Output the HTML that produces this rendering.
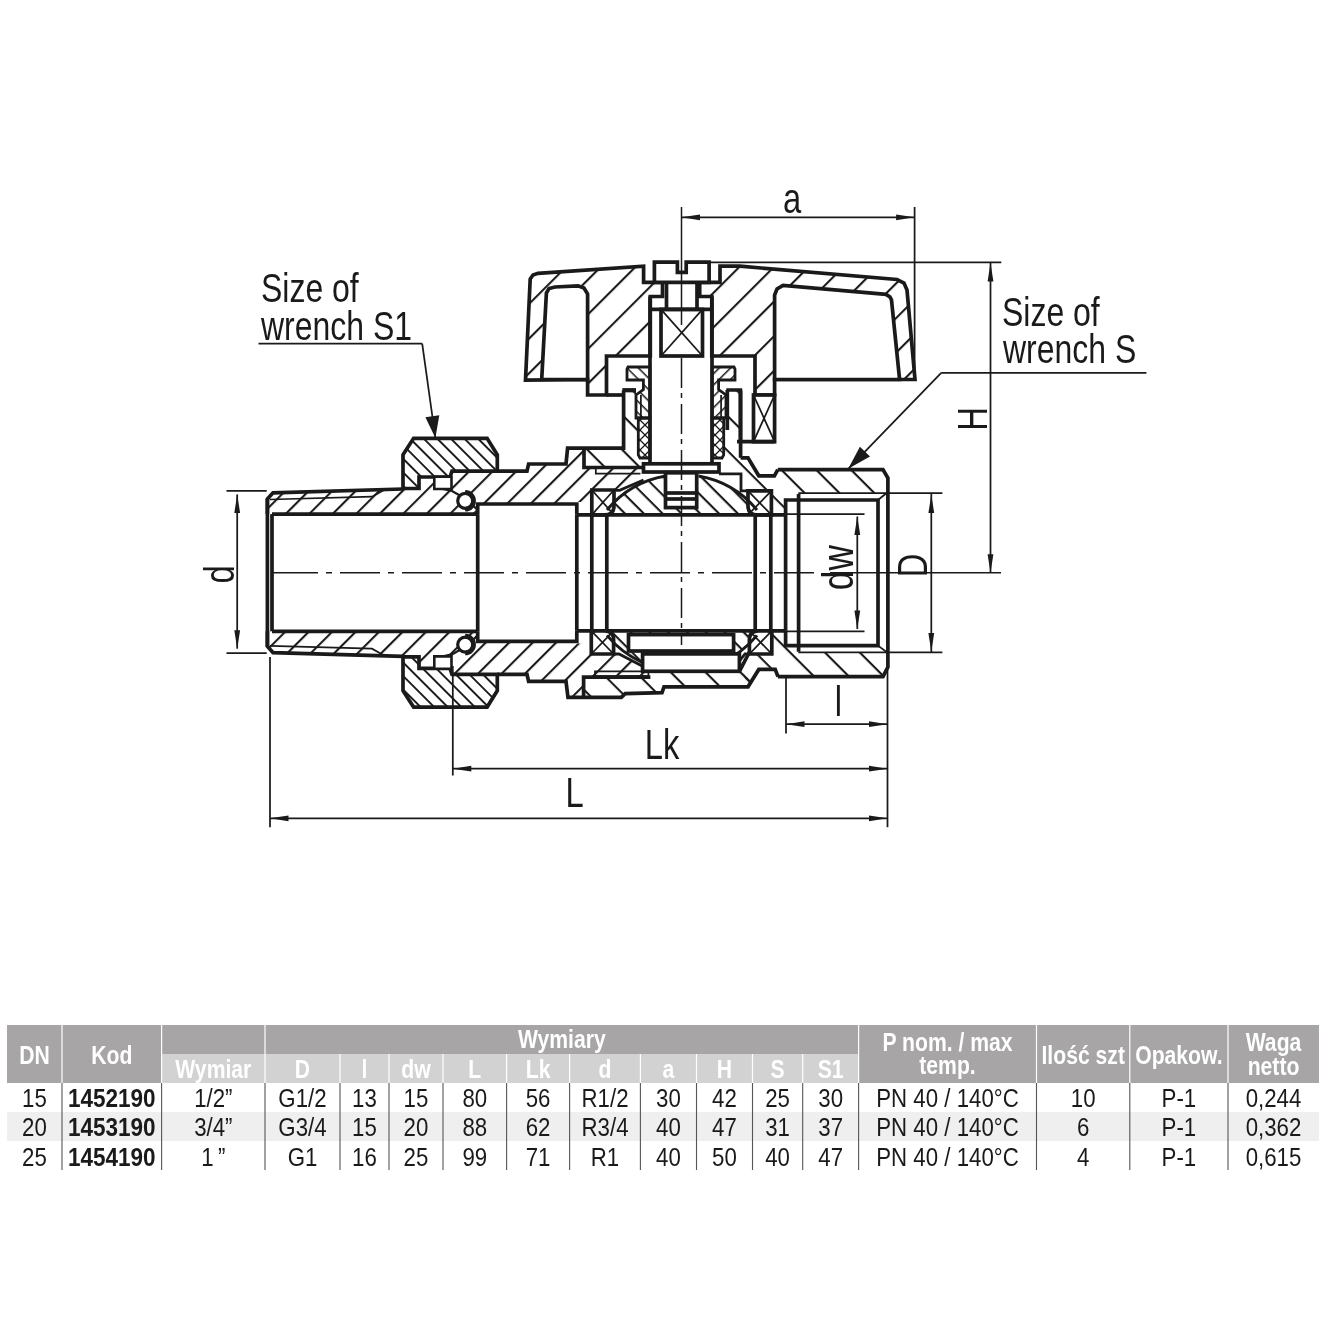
<!DOCTYPE html>
<html><head><meta charset="utf-8"><style>html,body{margin:0;padding:0;background:#fff;width:1343px;height:1334px;overflow:hidden}</style></head>
<body><svg width="1343" height="1334" viewBox="0 0 1343 1334" style="display:block;font-family:'Liberation Sans',sans-serif;will-change:transform">
<defs><pattern id="hP" patternUnits="userSpaceOnUse" width="16.6" height="16.6" patternTransform="rotate(-45)"><rect x="0" y="0" width="16.6" height="2.1" fill="#1a1a1a"/></pattern><pattern id="hN" patternUnits="userSpaceOnUse" width="9.6" height="9.6" patternTransform="rotate(45)"><rect x="0" y="0" width="9.6" height="1.9" fill="#1a1a1a"/></pattern><pattern id="hB" patternUnits="userSpaceOnUse" width="16.6" height="16.6" patternTransform="rotate(-45)"><rect x="0" y="0" width="16.6" height="2.1" fill="#1a1a1a"/></pattern><pattern id="hF" patternUnits="userSpaceOnUse" width="24.6" height="24.6" patternTransform="rotate(45)"><rect x="0" y="0" width="24.6" height="2.1" fill="#1a1a1a"/></pattern><pattern id="hH" patternUnits="userSpaceOnUse" width="24.5" height="24.5" patternTransform="rotate(-45)"><rect x="0" y="0" width="24.5" height="2.1" fill="#1a1a1a"/></pattern><pattern id="hK" patternUnits="userSpaceOnUse" width="13.3" height="13.3" patternTransform="rotate(45)"><rect x="0" y="0" width="13.3" height="2.1" fill="#1a1a1a"/></pattern><pattern id="hGL" patternUnits="userSpaceOnUse" width="8" height="8" patternTransform="rotate(45)"><rect x="0" y="0" width="8" height="1.5" fill="#1a1a1a"/></pattern><pattern id="hGR" patternUnits="userSpaceOnUse" width="8" height="8" patternTransform="rotate(-45)"><rect x="0" y="0" width="8" height="1.5" fill="#1a1a1a"/></pattern><pattern id="hX" patternUnits="userSpaceOnUse" width="10" height="10"><path d="M0,0 L10,10 M10,0 L0,10" stroke="#1a1a1a" stroke-width="1.3"/></pattern></defs>
<rect width="1343" height="1334" fill="#fff"/>
<g id="hatch">
<polygon points="267.4,499.0 273.0,492.8 403.0,489.0 419.0,488.5 419.0,477.0 436.0,477.0 436.0,487.5 452.0,491.0 466.0,499.0 477.7,510.0 477.7,514.1 267.4,514.1" fill="url(#hP)" stroke="none" stroke-width="0" stroke-linejoin="miter" />
<polygon points="267.4,646.4 273.0,652.6 403.0,656.4 419.0,656.9 419.0,668.4 436.0,668.4 436.0,657.9 452.0,654.4 466.0,646.4 477.7,635.4 477.7,631.3 267.4,631.3" fill="url(#hP)" stroke="none" stroke-width="0" stroke-linejoin="miter" />
<polygon points="403.0,454.7 413.6,438.3 487.1,438.3 497.3,454.7 497.3,471.1 452.0,471.1 450.0,477.0 419.0,477.0 419.0,488.5 403.0,488.5" fill="url(#hN)" stroke="none" stroke-width="0" stroke-linejoin="miter" />
<polygon points="403.0,690.7 413.6,707.1 487.1,707.1 497.3,690.7 497.3,674.3 452.0,674.3 450.0,668.4 419.0,668.4 419.0,656.9 403.0,656.9" fill="url(#hN)" stroke="none" stroke-width="0" stroke-linejoin="miter" />
<polygon points="450.0,477.0 452.0,471.1 527.0,471.1 528.6,464.0 566.0,464.0 567.6,448.1 584.0,448.1 584.0,467.5 643.5,467.5 643.5,480.0 619.6,490.3 591.8,490.3 591.8,502.0 576.8,502.0 576.8,504.0 477.7,504.0 477.7,510.0 466.0,499.0 452.0,491.0 436.0,487.5 436.0,477.0" fill="url(#hB)" stroke="none" stroke-width="0" stroke-linejoin="miter" />
<polygon points="584.0,448.1 623.6,448.1 623.6,390.0 636.0,390.0 636.0,418.0 638.3,418.0 638.3,458.0 643.5,463.8 643.5,467.5 584.0,467.5" fill="url(#hF)" stroke="none" stroke-width="0" stroke-linejoin="miter" />
<polygon points="450.0,668.4 452.0,674.3 527.0,674.3 528.6,681.4 566.0,681.4 568.0,697.4 583.6,697.4 583.6,677.1 650.4,677.1 650.4,671.9 642.2,666.0 619.0,654.0 591.8,654.0 591.8,643.4 576.8,643.4 576.8,641.4 477.7,641.4 477.7,635.4 466.0,646.4 452.0,654.4 436.0,657.9 436.0,668.4" fill="url(#hB)" stroke="none" stroke-width="0" stroke-linejoin="miter" />
<polygon points="583.6,677.1 650.4,677.1 650.4,671.9 739.4,671.9 739.4,662.0 745.0,654.0 749.4,654.0 759.0,669.2 748.0,686.8 664.0,686.8 662.0,692.6 625.2,693.6 621.3,697.4 583.6,697.4" fill="url(#hF)" stroke="none" stroke-width="0" stroke-linejoin="miter" />
<polygon points="726.3,390.0 740.4,390.0 740.4,457.8 748.0,457.8 758.8,475.8 774.4,475.8 777.8,469.6 883.0,469.6 887.9,478.0 887.9,493.0 799.0,493.0 785.6,500.0 785.6,514.8 771.4,514.8 771.4,490.8 741.0,490.8 741.0,473.8 719.0,473.8 719.0,463.8 723.4,458.0 723.4,418.0 726.3,418.0" fill="url(#hF)" stroke="none" stroke-width="0" stroke-linejoin="miter" />
<polygon points="758.8,669.4 775.2,669.4 778.0,676.7 883.0,676.7 887.9,667.0 887.9,652.4 799.0,652.4 785.6,645.6 785.6,630.8 771.8,630.8 771.8,654.0 749.4,654.0 738.7,660.0 747.6,687.0" fill="url(#hF)" stroke="none" stroke-width="0" stroke-linejoin="miter" />
<polygon points="525.5,380.2 530.2,279.0 533.0,275.0 538.0,273.3 643.6,266.2 643.6,282.4 662.5,282.4 662.5,296.5 650.3,296.5 650.3,356.0 606.5,356.0 606.5,395.0 587.6,395.0 587.6,379.5" fill="url(#hH)" stroke="none" stroke-width="0" stroke-linejoin="miter" />
<polygon points="699.7,282.4 720.0,282.4 720.0,266.2 740.0,266.2 897.0,279.5 904.0,283.0 907.0,290.0 915.0,379.5 774.6,379.5 774.6,395.0 755.0,395.0 755.0,356.0 711.8,356.0 711.8,296.5 699.7,296.5" fill="url(#hH)" stroke="none" stroke-width="0" stroke-linejoin="miter" />
<path d="M 603,514.8 A 98 98 0 0 1 761,514.8 Z" fill="url(#hK)"/>
<path d="M 603,630.8 A 98 98 0 0 0 761,630.8 Z" fill="url(#hK)"/>
</g>
<polyline points="267.4,514.1 267.4,499.0 273.0,492.8 403.0,489.0" fill="none" stroke="#1a1a1a" stroke-width="3.7" />
<polyline points="272.0,514.1 477.7,514.1" fill="none" stroke="#1a1a1a" stroke-width="3.7" />
<polyline points="270.0,499.5 372.0,496.7 385.0,489.5" fill="none" stroke="#1a1a1a" stroke-width="1.75" />
<polyline points="267.4,631.3 267.4,646.4 273.0,652.6 403.0,656.4" fill="none" stroke="#1a1a1a" stroke-width="3.7" />
<polyline points="272.0,631.3 477.7,631.3" fill="none" stroke="#1a1a1a" stroke-width="3.7" />
<polyline points="270.0,645.9 372.0,648.7 385.0,655.9" fill="none" stroke="#1a1a1a" stroke-width="1.75" />
<line x1="267.4" y1="499.0" x2="267.4" y2="646.4" stroke="#1a1a1a" stroke-width="3.7" />
<line x1="272.0" y1="514.1" x2="272.0" y2="631.3" stroke="#1a1a1a" stroke-width="3.7" />
<polyline points="403.0,488.5 403.0,454.7 413.6,438.3 487.1,438.3 497.3,454.7 497.3,471.1 452.0,471.1 450.0,477.0 419.0,477.0 419.0,488.5 403.0,488.5" fill="none" stroke="#1a1a1a" stroke-width="3.7" />
<polyline points="436.0,477.0 436.0,487.5" fill="none" stroke="#1a1a1a" stroke-width="2.2" />
<polyline points="436.0,487.5 452.0,491.0 466.0,499.0 477.7,510.0" fill="none" stroke="#1a1a1a" stroke-width="2.2" />
<polyline points="403.0,656.9 403.0,690.7 413.6,707.1 487.1,707.1 497.3,690.7 497.3,674.3 452.0,674.3 450.0,668.4 419.0,668.4 419.0,656.9 403.0,656.9" fill="none" stroke="#1a1a1a" stroke-width="3.7" />
<polyline points="436.0,668.4 436.0,657.9" fill="none" stroke="#1a1a1a" stroke-width="2.2" />
<polyline points="436.0,657.9 452.0,654.4 466.0,646.4 477.7,635.4" fill="none" stroke="#1a1a1a" stroke-width="2.2" />
<polygon points="434.3,476.7 451.5,476.7 451.5,489.0 434.3,489.0" fill="#fff" stroke="#1a1a1a" stroke-width="2.6" stroke-linejoin="miter" />
<polygon points="434.3,668.7 451.5,668.7 451.5,656.4 434.3,656.4" fill="#fff" stroke="#1a1a1a" stroke-width="2.6" stroke-linejoin="miter" />
<circle cx="465.2" cy="500.8" r="7.5" fill="#fff" stroke="#1a1a1a" stroke-width="3.2"/>
<path d="M 465.2,492.3 A 8.5 8.5 0 0 1 465.2,509.3" fill="none" stroke="#1a1a1a" stroke-width="4.5"/>
<circle cx="465.2" cy="644.6000000000001" r="7.5" fill="#fff" stroke="#1a1a1a" stroke-width="3.2"/>
<path d="M 465.2,636.1000000000001 A 8.5 8.5 0 0 1 465.2,653.1000000000001" fill="none" stroke="#1a1a1a" stroke-width="4.5"/>
<polyline points="477.7,514.1 477.7,504.0 576.8,504.0 576.8,514.8" fill="none" stroke="#1a1a1a" stroke-width="3.7" />
<polyline points="477.7,631.3 477.7,641.4 576.8,641.4 576.8,630.6" fill="none" stroke="#1a1a1a" stroke-width="3.7" />
<line x1="477.7" y1="514.1" x2="477.7" y2="631.3" stroke="#1a1a1a" stroke-width="3.7" />
<line x1="576.8" y1="514.8" x2="576.8" y2="630.6" stroke="#1a1a1a" stroke-width="3.7" />
<polyline points="497.3,471.1 527.0,471.1 528.6,464.0 566.0,464.0 567.6,448.1 623.6,448.1 623.6,390.5" fill="none" stroke="#1a1a1a" stroke-width="3.7" />
<polyline points="497.3,674.3 527.0,674.3 528.6,681.4 566.0,681.4 568.0,697.4 621.3,697.4 625.2,693.6 662.0,692.6 664.0,686.8 748.0,686.8 758.8,669.4 775.2,669.4 778.0,676.7" fill="none" stroke="#1a1a1a" stroke-width="3.7" />
<polyline points="576.8,514.8 785.6,514.8" fill="none" stroke="#1a1a1a" stroke-width="3.7" />
<polyline points="576.8,630.8 785.6,630.8" fill="none" stroke="#1a1a1a" stroke-width="3.7" />
<line x1="591.8" y1="514.8" x2="591.8" y2="630.8" stroke="#1a1a1a" stroke-width="3.7" />
<line x1="606.8" y1="514.8" x2="606.8" y2="630.8" stroke="#1a1a1a" stroke-width="3.7" />
<line x1="755.2" y1="514.8" x2="755.2" y2="630.8" stroke="#1a1a1a" stroke-width="3.7" />
<line x1="770.8" y1="514.8" x2="770.8" y2="630.8" stroke="#1a1a1a" stroke-width="3.7" />
<rect x="591.8" y="490.0" width="22.2" height="24.8" rx="9" fill="#fff" stroke="none"/>
<line x1="591.8" y1="490.0" x2="614.0" y2="514.8" stroke="#1a1a1a" stroke-width="1.75" />
<line x1="591.8" y1="514.8" x2="614.0" y2="490.0" stroke="#1a1a1a" stroke-width="1.75" />
<path d="M 591.8,490 H 614 V 505.79999999999995 Q 614,514.8 605,514.8 H 591.8 Z" fill="none" stroke="#1a1a1a" stroke-width="3.7"/>
<rect x="748.0" y="490.8" width="23.4" height="24.0" rx="9" fill="#fff" stroke="none"/>
<line x1="748.0" y1="490.8" x2="771.4" y2="514.8" stroke="#1a1a1a" stroke-width="1.75" />
<line x1="748.0" y1="514.8" x2="771.4" y2="490.8" stroke="#1a1a1a" stroke-width="1.75" />
<path d="M 771.4,490.8 H 748 V 505.79999999999995 Q 748,514.8 757,514.8 H 771.4 Z" fill="none" stroke="#1a1a1a" stroke-width="3.7"/>
<rect x="591.3" y="630.8" width="22.3" height="23.2" rx="9" fill="#fff" stroke="none"/>
<line x1="591.3" y1="630.8" x2="613.6" y2="654.0" stroke="#1a1a1a" stroke-width="1.75" />
<line x1="591.3" y1="654.0" x2="613.6" y2="630.8" stroke="#1a1a1a" stroke-width="1.75" />
<path d="M 591.3,654 H 613.6 V 639.8 Q 613.6,630.8 604.6,630.8 H 591.3 Z" fill="none" stroke="#1a1a1a" stroke-width="3.7"/>
<rect x="749.4" y="630.8" width="22.4" height="23.2" rx="9" fill="#fff" stroke="none"/>
<line x1="749.4" y1="630.8" x2="771.8" y2="654.0" stroke="#1a1a1a" stroke-width="1.75" />
<line x1="749.4" y1="654.0" x2="771.8" y2="630.8" stroke="#1a1a1a" stroke-width="1.75" />
<path d="M 771.8,654 H 749.4 V 639.8 Q 749.4,630.8 758.4,630.8 H 771.8 Z" fill="none" stroke="#1a1a1a" stroke-width="3.7"/>
<path d="M 607,510 A 98 98 0 0 1 665.5,476.1" fill="none" stroke="#1a1a1a" stroke-width="3"/>
<path d="M 698.5,476.1 A 98 98 0 0 1 757,510" fill="none" stroke="#1a1a1a" stroke-width="3"/>
<path d="M 607,635.4 A 98 98 0 0 0 642.2,662.3" fill="none" stroke="#1a1a1a" stroke-width="3"/>
<path d="M 721.8,662.3 A 98 98 0 0 0 757,635.4" fill="none" stroke="#1a1a1a" stroke-width="3"/>
<polyline points="614.0,490.3 619.6,490.3 643.5,480.0" fill="none" stroke="#1a1a1a" stroke-width="2.8" />
<polyline points="748.0,490.8 741.0,490.8 741.0,473.8 719.0,473.8" fill="none" stroke="#1a1a1a" stroke-width="2.8" />
<polyline points="613.6,654.0 619.0,654.0 642.2,666.0" fill="none" stroke="#1a1a1a" stroke-width="2.8" />
<polyline points="749.4,654.0 745.0,654.0 738.7,662.0" fill="none" stroke="#1a1a1a" stroke-width="2.8" />
<polyline points="584.0,448.4 584.0,467.5 643.5,467.5" fill="none" stroke="#1a1a1a" stroke-width="3.7" />
<polyline points="595.8,467.5 595.8,473.5 640.4,473.5" fill="none" stroke="#1a1a1a" stroke-width="1.75" />
<polyline points="583.6,697.4 583.6,677.1 650.4,677.1" fill="none" stroke="#1a1a1a" stroke-width="3.7" />
<polygon points="595.0,671.3 648.4,671.3 648.4,676.1 595.0,676.1" fill="none" stroke="#1a1a1a" stroke-width="1.75" stroke-linejoin="miter" />
<polyline points="739.4,671.3 750.0,651.0" fill="none" stroke="#1a1a1a" stroke-width="3.7" />
<rect x="642.6" y="653.9" width="96.8" height="17.4" fill="#fff" stroke="#1a1a1a" stroke-width="3.7"/>
<rect x="628.5" y="634.6" width="105.1" height="16.4" fill="#fff" stroke="#1a1a1a" stroke-width="3.7"/>
<rect x="650" y="356" width="62" height="107.5" fill="#fff"/>
<line x1="650.0" y1="296.5" x2="650.0" y2="463.5" stroke="#1a1a1a" stroke-width="3.7" />
<line x1="712.0" y1="296.5" x2="712.0" y2="463.5" stroke="#1a1a1a" stroke-width="3.7" />
<rect x="643.5" y="463.8" width="75.5" height="8.2" fill="#fff" stroke="#1a1a1a" stroke-width="3.7"/>
<rect x="665.5" y="472.8" width="31.2" height="34.8" fill="#fff" stroke="#1a1a1a" stroke-width="3.7"/>
<line x1="665.5" y1="493.0" x2="696.7" y2="493.0" stroke="#1a1a1a" stroke-width="3.7" />
<line x1="665.5" y1="499.0" x2="696.7" y2="499.0" stroke="#1a1a1a" stroke-width="3.7" />
<polyline points="623.6,390.5 636.0,390.5" fill="none" stroke="#1a1a1a" stroke-width="3.7" />
<line x1="740.6" y1="390.5" x2="740.6" y2="457.8" stroke="#1a1a1a" stroke-width="3.7" />
<polyline points="740.6,457.8 748.0,457.8 758.8,475.8 774.4,475.8 777.8,469.6" fill="none" stroke="#1a1a1a" stroke-width="3.7" />
<polygon points="628.0,367.0 649.9,367.0 649.9,418.0 636.0,418.0 636.0,395.0 643.4,389.5 643.4,380.0 627.0,380.0 627.0,369.0" fill="url(#hGL)" stroke="#1a1a1a" stroke-width="2.8" stroke-linejoin="miter" />
<polygon points="638.3,418.0 649.9,418.0 649.9,458.0 640.0,458.0 638.3,455.0" fill="url(#hX)" stroke="#1a1a1a" stroke-width="2.8" stroke-linejoin="miter" />
<line x1="640.9" y1="395.0" x2="640.9" y2="418.0" stroke="#1a1a1a" stroke-width="1.75" />
<polygon points="734.0,367.0 712.1,367.0 712.1,418.0 726.0,418.0 726.0,395.0 718.6,389.5 718.6,380.0 735.0,380.0 735.0,369.0" fill="url(#hGR)" stroke="#1a1a1a" stroke-width="2.8" stroke-linejoin="miter" />
<polygon points="723.7,418.0 712.1,418.0 712.1,458.0 722.0,458.0 723.7,455.0" fill="url(#hX)" stroke="#1a1a1a" stroke-width="2.8" stroke-linejoin="miter" />
<line x1="721.1" y1="395.0" x2="721.1" y2="418.0" stroke="#1a1a1a" stroke-width="1.75" />
<polyline points="622.3,390.0 636.0,390.0" fill="none" stroke="#1a1a1a" stroke-width="3.7" />
<polyline points="726.3,390.0 740.4,390.0 740.4,441.5" fill="none" stroke="#1a1a1a" stroke-width="3.7" />
<line x1="727.3" y1="390.0" x2="727.3" y2="430.0" stroke="#1a1a1a" stroke-width="3.7" />
<polygon points="525.5,380.2 530.2,279.0 533.0,275.0 538.0,273.3 643.6,266.2 643.6,282.4 662.5,282.4 662.5,296.5 650.3,296.5 650.3,356.0 606.5,356.0 606.5,395.0 587.6,395.0 587.6,379.5" fill="none" stroke="#1a1a1a" stroke-width="3.7" stroke-linejoin="miter" />
<polygon points="699.7,282.4 720.0,282.4 720.0,266.2 740.0,266.2 897.0,279.5 904.0,283.0 907.0,290.0 915.0,379.5 774.6,379.5 774.6,395.0 755.0,395.0 755.0,356.0 711.8,356.0 711.8,296.5 699.7,296.5" fill="none" stroke="#1a1a1a" stroke-width="3.7" stroke-linejoin="miter" />
<polygon points="541.7,379.5 546.4,293.0 549.0,288.5 555.0,287.0 578.0,285.8 584.0,288.0 587.6,294.0 587.6,379.5" fill="#fff" stroke="#1a1a1a" stroke-width="3.7" stroke-linejoin="miter" />
<polygon points="774.6,379.5 774.6,295.0 777.0,289.0 783.0,285.5 886.0,294.4 890.0,297.0 891.5,300.0 899.6,379.5" fill="#fff" stroke="#1a1a1a" stroke-width="3.7" stroke-linejoin="miter" />
<rect x="753.5" y="395.0" width="21.1" height="46.7" fill="#fff" stroke="#1a1a1a" stroke-width="3.7"/>
<line x1="753.5" y1="395.0" x2="774.6" y2="441.7" stroke="#1a1a1a" stroke-width="1.75" />
<line x1="753.5" y1="441.7" x2="774.6" y2="395.0" stroke="#1a1a1a" stroke-width="1.75" />
<line x1="737.0" y1="441.7" x2="774.6" y2="441.7" stroke="#1a1a1a" stroke-width="3.7" />
<line x1="623.6" y1="395.0" x2="606.5" y2="395.0" stroke="#1a1a1a" stroke-width="3.7" />
<polygon points="654.4,282.4 654.4,262.1 677.4,262.1 677.4,272.3 686.2,272.3 686.2,262.1 709.1,262.1 709.1,282.4" fill="#fff" stroke="#1a1a1a" stroke-width="3.7" stroke-linejoin="miter" />
<rect x="661.0" y="309.4" width="41.5" height="46.6" fill="#fff" stroke="#1a1a1a" stroke-width="3.7"/>
<line x1="661.0" y1="309.4" x2="702.5" y2="356.0" stroke="#1a1a1a" stroke-width="1.75" />
<line x1="661.0" y1="356.0" x2="702.5" y2="309.4" stroke="#1a1a1a" stroke-width="1.75" />
<line x1="650.0" y1="309.4" x2="712.0" y2="309.4" stroke="#1a1a1a" stroke-width="3.7" />
<line x1="666.5" y1="282.4" x2="666.5" y2="309.4" stroke="#1a1a1a" stroke-width="3.7" />
<line x1="697.0" y1="282.4" x2="697.0" y2="309.4" stroke="#1a1a1a" stroke-width="3.7" />
<polyline points="777.8,469.6 883.0,469.6 887.9,478.0 887.9,667.0 883.0,676.7 777.8,676.7" fill="none" stroke="#1a1a1a" stroke-width="3.7" />
<polyline points="785.6,514.8 785.6,500.0 878.0,500.0 878.0,645.6 785.6,645.6 785.6,630.8" fill="none" stroke="#1a1a1a" stroke-width="3.7" />
<line x1="785.6" y1="514.8" x2="785.6" y2="630.8" stroke="#1a1a1a" stroke-width="3.7" />
<line x1="878.0" y1="500.0" x2="887.9" y2="492.0" stroke="#1a1a1a" stroke-width="1.75" />
<line x1="878.0" y1="645.6" x2="887.9" y2="653.0" stroke="#1a1a1a" stroke-width="1.75" />
<line x1="798.6" y1="494.0" x2="798.6" y2="651.7" stroke="#1a1a1a" stroke-width="3.7" />
<line x1="798.3" y1="493.0" x2="887.9" y2="493.0" stroke="#1a1a1a" stroke-width="1.75" />
<line x1="798.3" y1="652.4" x2="887.9" y2="652.4" stroke="#1a1a1a" stroke-width="1.75" />
<line x1="272" y1="572.7" x2="318" y2="572.7" stroke="#1a1a1a" stroke-width="1.5"/>
<line x1="326" y1="572.7" x2="822" y2="572.7" stroke="#1a1a1a" stroke-width="1.5" stroke-dasharray="6 8 40 8"/>
<line x1="830" y1="572.7" x2="1001" y2="572.7" stroke="#1a1a1a" stroke-width="1.5"/>
<line x1="681.5" y1="207" x2="681.5" y2="325" stroke="#1a1a1a" stroke-width="1.5"/>
<line x1="681.5" y1="358" x2="681.5" y2="645" stroke="#1a1a1a" stroke-width="1.5" stroke-dasharray="30 5 5 6"/>
<line x1="681.5" y1="217.3" x2="914.6" y2="217.3" stroke="#1a1a1a" stroke-width="1.75" />
<polygon points="681.5,217.3 700.0,214.4 700.0,220.2" fill="#1a1a1a"/>
<polygon points="914.6,217.3 896.1,220.2 896.1,214.4" fill="#1a1a1a"/>
<line x1="914.6" y1="207.0" x2="914.6" y2="380.7" stroke="#1a1a1a" stroke-width="1.75" />
<text transform="translate(792.0,213.0) scale(0.78,1)" font-size="42" text-anchor="middle" fill="#1a1a1a">a</text>
<line x1="709.0" y1="262.3" x2="1001.3" y2="262.3" stroke="#1a1a1a" stroke-width="1.75" />
<line x1="990.5" y1="262.3" x2="990.5" y2="572.7" stroke="#1a1a1a" stroke-width="1.75" />
<polygon points="990.5,263.0 993.4,281.5 987.6,281.5" fill="#1a1a1a"/>
<polygon points="990.5,572.7 987.6,554.2 993.4,554.2" fill="#1a1a1a"/>
<text transform="translate(987.0,419.0) rotate(-90) scale(0.78,1)" font-size="42" text-anchor="middle" fill="#1a1a1a">H</text>
<text transform="translate(1002.0,325.7) scale(0.78,1)" font-size="41" text-anchor="start" fill="#1a1a1a">Size of</text>
<text transform="translate(1003.0,362.8) scale(0.78,1)" font-size="41" text-anchor="start" fill="#1a1a1a">wrench S</text>
<line x1="941.2" y1="372.8" x2="1146.4" y2="372.8" stroke="#1a1a1a" stroke-width="1.75" />
<line x1="941.2" y1="372.8" x2="848.0" y2="469.2" stroke="#1a1a1a" stroke-width="1.75" />
<polygon points="848.2,468.8 859.9,446.7 870.0,456.5" fill="#1a1a1a"/>
<text transform="translate(261.0,302.0) scale(0.78,1)" font-size="41" text-anchor="start" fill="#1a1a1a">Size of</text>
<text transform="translate(261.0,340.0) scale(0.78,1)" font-size="41" text-anchor="start" fill="#1a1a1a">wrench S1</text>
<line x1="258.5" y1="343.7" x2="422.2" y2="343.7" stroke="#1a1a1a" stroke-width="1.75" />
<line x1="422.2" y1="343.7" x2="435.4" y2="438.0" stroke="#1a1a1a" stroke-width="1.75" />
<polygon points="435.4,438.0 425.4,417.2 439.3,415.2" fill="#1a1a1a"/>
<line x1="226.5" y1="490.8" x2="266.7" y2="490.8" stroke="#1a1a1a" stroke-width="1.75" />
<line x1="226.5" y1="653.0" x2="266.7" y2="653.0" stroke="#1a1a1a" stroke-width="1.75" />
<line x1="237.2" y1="494.4" x2="237.2" y2="648.7" stroke="#1a1a1a" stroke-width="1.75" />
<polygon points="237.2,494.4 240.1,512.9 234.3,512.9" fill="#1a1a1a"/>
<polygon points="237.2,648.7 234.3,630.2 240.1,630.2" fill="#1a1a1a"/>
<text transform="translate(233.6,574.5) rotate(-90) scale(0.78,1)" font-size="42" text-anchor="middle" fill="#1a1a1a">d</text>
<line x1="785.6" y1="514.0" x2="864.5" y2="514.0" stroke="#1a1a1a" stroke-width="1.75" />
<line x1="785.6" y1="631.3" x2="864.5" y2="631.3" stroke="#1a1a1a" stroke-width="1.75" />
<line x1="857.3" y1="516.5" x2="857.3" y2="629.0" stroke="#1a1a1a" stroke-width="1.75" />
<polygon points="857.3,516.5 860.2,535.0 854.4,535.0" fill="#1a1a1a"/>
<polygon points="857.3,629.0 854.4,610.5 860.2,610.5" fill="#1a1a1a"/>
<text transform="translate(852.5,567.7) rotate(-90) scale(0.8,1)" font-size="44" text-anchor="middle" fill="#1a1a1a">dw</text>
<line x1="887.9" y1="493.0" x2="942.4" y2="493.0" stroke="#1a1a1a" stroke-width="1.75" />
<line x1="887.9" y1="652.4" x2="942.4" y2="652.4" stroke="#1a1a1a" stroke-width="1.75" />
<line x1="931.3" y1="493.0" x2="931.3" y2="652.4" stroke="#1a1a1a" stroke-width="1.75" />
<polygon points="931.3,494.6 934.2,513.1 928.4,513.1" fill="#1a1a1a"/>
<polygon points="931.3,651.4 928.4,632.9 934.2,632.9" fill="#1a1a1a"/>
<text transform="translate(927.0,565.5) rotate(-90) scale(0.78,1)" font-size="42" text-anchor="middle" fill="#1a1a1a">D</text>
<line x1="786.0" y1="676.0" x2="786.0" y2="733.6" stroke="#1a1a1a" stroke-width="1.75" />
<line x1="887.5" y1="667.0" x2="887.5" y2="827.2" stroke="#1a1a1a" stroke-width="1.75" />
<line x1="786.0" y1="724.2" x2="887.5" y2="724.2" stroke="#1a1a1a" stroke-width="1.75" />
<polygon points="786.0,724.2 804.5,721.3 804.5,727.1" fill="#1a1a1a"/>
<polygon points="887.5,724.2 869.0,727.1 869.0,721.3" fill="#1a1a1a"/>
<text transform="translate(838.5,715.7) scale(0.78,1)" font-size="42" text-anchor="middle" fill="#1a1a1a">l</text>
<line x1="452.8" y1="666.0" x2="452.8" y2="775.5" stroke="#1a1a1a" stroke-width="1.75" />
<line x1="452.8" y1="768.7" x2="887.5" y2="768.7" stroke="#1a1a1a" stroke-width="1.75" />
<polygon points="452.8,768.7 471.3,765.8 471.3,771.6" fill="#1a1a1a"/>
<polygon points="887.5,768.7 869.0,771.6 869.0,765.8" fill="#1a1a1a"/>
<text transform="translate(662.0,759.3) scale(0.78,1)" font-size="42" text-anchor="middle" fill="#1a1a1a">Lk</text>
<line x1="270.0" y1="657.0" x2="270.0" y2="827.2" stroke="#1a1a1a" stroke-width="1.75" />
<line x1="270.0" y1="818.3" x2="887.5" y2="818.3" stroke="#1a1a1a" stroke-width="1.75" />
<polygon points="270.0,818.3 288.5,815.4 288.5,821.2" fill="#1a1a1a"/>
<polygon points="887.5,818.3 869.0,821.2 869.0,815.4" fill="#1a1a1a"/>
<text transform="translate(574.5,806.8) scale(0.78,1)" font-size="42" text-anchor="middle" fill="#1a1a1a">L</text>
<rect x="7" y="1025" width="1312" height="58" fill="#a7a5a6"/>
<rect x="161.6" y="1054" width="697.0" height="29" fill="#d3d2d2"/>
<rect x="7" y="1112" width="1312" height="29" fill="#efefef"/>
<line x1="62" y1="1025" x2="62" y2="1083" stroke="#fff" stroke-width="1.2"/>
<line x1="161.6" y1="1025" x2="161.6" y2="1083" stroke="#fff" stroke-width="1.2"/>
<line x1="265" y1="1025" x2="265" y2="1083" stroke="#fff" stroke-width="1.2"/>
<line x1="340" y1="1054" x2="340" y2="1083" stroke="#fff" stroke-width="1.2"/>
<line x1="389" y1="1054" x2="389" y2="1083" stroke="#fff" stroke-width="1.2"/>
<line x1="443" y1="1054" x2="443" y2="1083" stroke="#fff" stroke-width="1.2"/>
<line x1="506.6" y1="1054" x2="506.6" y2="1083" stroke="#fff" stroke-width="1.2"/>
<line x1="569.6" y1="1054" x2="569.6" y2="1083" stroke="#fff" stroke-width="1.2"/>
<line x1="640.4" y1="1054" x2="640.4" y2="1083" stroke="#fff" stroke-width="1.2"/>
<line x1="696.5" y1="1054" x2="696.5" y2="1083" stroke="#fff" stroke-width="1.2"/>
<line x1="752.5" y1="1054" x2="752.5" y2="1083" stroke="#fff" stroke-width="1.2"/>
<line x1="802.7" y1="1054" x2="802.7" y2="1083" stroke="#fff" stroke-width="1.2"/>
<line x1="858.6" y1="1025" x2="858.6" y2="1083" stroke="#fff" stroke-width="1.2"/>
<line x1="1036.5" y1="1025" x2="1036.5" y2="1083" stroke="#fff" stroke-width="1.2"/>
<line x1="1129.8" y1="1025" x2="1129.8" y2="1083" stroke="#fff" stroke-width="1.2"/>
<line x1="1228" y1="1025" x2="1228" y2="1083" stroke="#fff" stroke-width="1.2"/>
<line x1="62" y1="1083" x2="62" y2="1170" stroke="#555" stroke-width="1.1"/>
<line x1="161.6" y1="1083" x2="161.6" y2="1170" stroke="#555" stroke-width="1.1"/>
<line x1="265" y1="1083" x2="265" y2="1170" stroke="#555" stroke-width="1.1"/>
<line x1="340" y1="1083" x2="340" y2="1170" stroke="#555" stroke-width="1.1"/>
<line x1="389" y1="1083" x2="389" y2="1170" stroke="#555" stroke-width="1.1"/>
<line x1="443" y1="1083" x2="443" y2="1170" stroke="#555" stroke-width="1.1"/>
<line x1="506.6" y1="1083" x2="506.6" y2="1170" stroke="#555" stroke-width="1.1"/>
<line x1="569.6" y1="1083" x2="569.6" y2="1170" stroke="#555" stroke-width="1.1"/>
<line x1="640.4" y1="1083" x2="640.4" y2="1170" stroke="#555" stroke-width="1.1"/>
<line x1="696.5" y1="1083" x2="696.5" y2="1170" stroke="#555" stroke-width="1.1"/>
<line x1="752.5" y1="1083" x2="752.5" y2="1170" stroke="#555" stroke-width="1.1"/>
<line x1="802.7" y1="1083" x2="802.7" y2="1170" stroke="#555" stroke-width="1.1"/>
<line x1="858.6" y1="1083" x2="858.6" y2="1170" stroke="#555" stroke-width="1.1"/>
<line x1="1036.5" y1="1083" x2="1036.5" y2="1170" stroke="#555" stroke-width="1.1"/>
<line x1="1129.8" y1="1083" x2="1129.8" y2="1170" stroke="#555" stroke-width="1.1"/>
<line x1="1228" y1="1083" x2="1228" y2="1170" stroke="#555" stroke-width="1.1"/>
<text transform="translate(34.5,1064.0) scale(0.83,1)" text-anchor="middle" font-size="25.5" font-weight="bold" fill="#ffffff">DN</text>
<text transform="translate(111.8,1064.0) scale(0.83,1)" text-anchor="middle" font-size="25.5" font-weight="bold" fill="#ffffff">Kod</text>
<text transform="translate(561.8,1048.0) scale(0.83,1)" text-anchor="middle" font-size="25.5" font-weight="bold" fill="#ffffff">Wymiary</text>
<text transform="translate(213.3,1077.8) scale(0.83,1)" text-anchor="middle" font-size="25.5" font-weight="bold" fill="#ffffff">Wymiar</text>
<text transform="translate(302.5,1077.8) scale(0.83,1)" text-anchor="middle" font-size="25.5" font-weight="bold" fill="#ffffff">D</text>
<text transform="translate(364.5,1077.8) scale(0.83,1)" text-anchor="middle" font-size="25.5" font-weight="bold" fill="#ffffff">l</text>
<text transform="translate(416.0,1077.8) scale(0.83,1)" text-anchor="middle" font-size="25.5" font-weight="bold" fill="#ffffff">dw</text>
<text transform="translate(474.8,1077.8) scale(0.83,1)" text-anchor="middle" font-size="25.5" font-weight="bold" fill="#ffffff">L</text>
<text transform="translate(538.1,1077.8) scale(0.83,1)" text-anchor="middle" font-size="25.5" font-weight="bold" fill="#ffffff">Lk</text>
<text transform="translate(605.0,1077.8) scale(0.83,1)" text-anchor="middle" font-size="25.5" font-weight="bold" fill="#ffffff">d</text>
<text transform="translate(668.5,1077.8) scale(0.83,1)" text-anchor="middle" font-size="25.5" font-weight="bold" fill="#ffffff">a</text>
<text transform="translate(724.5,1077.8) scale(0.83,1)" text-anchor="middle" font-size="25.5" font-weight="bold" fill="#ffffff">H</text>
<text transform="translate(777.6,1077.8) scale(0.83,1)" text-anchor="middle" font-size="25.5" font-weight="bold" fill="#ffffff">S</text>
<text transform="translate(830.7,1077.8) scale(0.83,1)" text-anchor="middle" font-size="25.5" font-weight="bold" fill="#ffffff">S1</text>
<text transform="translate(947.5,1051.3) scale(0.83,1)" text-anchor="middle" font-size="25.5" font-weight="bold" fill="#ffffff">P nom. / max</text>
<text transform="translate(947.5,1073.6) scale(0.83,1)" text-anchor="middle" font-size="25.5" font-weight="bold" fill="#ffffff">temp.</text>
<text transform="translate(1083.2,1064.0) scale(0.83,1)" text-anchor="middle" font-size="25.5" font-weight="bold" fill="#ffffff">Ilość szt</text>
<text transform="translate(1178.9,1064.0) scale(0.83,1)" text-anchor="middle" font-size="25.5" font-weight="bold" fill="#ffffff">Opakow.</text>
<text transform="translate(1273.5,1050.6) scale(0.83,1)" text-anchor="middle" font-size="25.5" font-weight="bold" fill="#ffffff">Waga</text>
<text transform="translate(1273.5,1075.0) scale(0.83,1)" text-anchor="middle" font-size="25.5" font-weight="bold" fill="#ffffff">netto</text>
<text transform="translate(34.5,1107.2) scale(0.84,1)" text-anchor="middle" font-size="26.5" font-weight="normal" fill="#1a1a1a">15</text>
<text transform="translate(111.8,1107.2) scale(0.85,1)" text-anchor="middle" font-size="26.5" font-weight="bold" fill="#1a1a1a">1452190</text>
<text transform="translate(213.3,1107.2) scale(0.84,1)" text-anchor="middle" font-size="26.5" font-weight="normal" fill="#1a1a1a">1/2”</text>
<text transform="translate(302.5,1107.2) scale(0.84,1)" text-anchor="middle" font-size="26.5" font-weight="normal" fill="#1a1a1a">G1/2</text>
<text transform="translate(364.5,1107.2) scale(0.84,1)" text-anchor="middle" font-size="26.5" font-weight="normal" fill="#1a1a1a">13</text>
<text transform="translate(416.0,1107.2) scale(0.84,1)" text-anchor="middle" font-size="26.5" font-weight="normal" fill="#1a1a1a">15</text>
<text transform="translate(474.8,1107.2) scale(0.84,1)" text-anchor="middle" font-size="26.5" font-weight="normal" fill="#1a1a1a">80</text>
<text transform="translate(538.1,1107.2) scale(0.84,1)" text-anchor="middle" font-size="26.5" font-weight="normal" fill="#1a1a1a">56</text>
<text transform="translate(605.0,1107.2) scale(0.84,1)" text-anchor="middle" font-size="26.5" font-weight="normal" fill="#1a1a1a">R1/2</text>
<text transform="translate(668.5,1107.2) scale(0.84,1)" text-anchor="middle" font-size="26.5" font-weight="normal" fill="#1a1a1a">30</text>
<text transform="translate(724.5,1107.2) scale(0.84,1)" text-anchor="middle" font-size="26.5" font-weight="normal" fill="#1a1a1a">42</text>
<text transform="translate(777.6,1107.2) scale(0.84,1)" text-anchor="middle" font-size="26.5" font-weight="normal" fill="#1a1a1a">25</text>
<text transform="translate(830.7,1107.2) scale(0.84,1)" text-anchor="middle" font-size="26.5" font-weight="normal" fill="#1a1a1a">30</text>
<text transform="translate(947.5,1107.2) scale(0.84,1)" text-anchor="middle" font-size="26.5" font-weight="normal" fill="#1a1a1a">PN 40 / 140°C</text>
<text transform="translate(1083.2,1107.2) scale(0.84,1)" text-anchor="middle" font-size="26.5" font-weight="normal" fill="#1a1a1a">10</text>
<text transform="translate(1178.9,1107.2) scale(0.84,1)" text-anchor="middle" font-size="26.5" font-weight="normal" fill="#1a1a1a">P-1</text>
<text transform="translate(1273.5,1107.2) scale(0.84,1)" text-anchor="middle" font-size="26.5" font-weight="normal" fill="#1a1a1a">0,244</text>
<text transform="translate(34.5,1136.0) scale(0.84,1)" text-anchor="middle" font-size="26.5" font-weight="normal" fill="#1a1a1a">20</text>
<text transform="translate(111.8,1136.0) scale(0.85,1)" text-anchor="middle" font-size="26.5" font-weight="bold" fill="#1a1a1a">1453190</text>
<text transform="translate(213.3,1136.0) scale(0.84,1)" text-anchor="middle" font-size="26.5" font-weight="normal" fill="#1a1a1a">3/4”</text>
<text transform="translate(302.5,1136.0) scale(0.84,1)" text-anchor="middle" font-size="26.5" font-weight="normal" fill="#1a1a1a">G3/4</text>
<text transform="translate(364.5,1136.0) scale(0.84,1)" text-anchor="middle" font-size="26.5" font-weight="normal" fill="#1a1a1a">15</text>
<text transform="translate(416.0,1136.0) scale(0.84,1)" text-anchor="middle" font-size="26.5" font-weight="normal" fill="#1a1a1a">20</text>
<text transform="translate(474.8,1136.0) scale(0.84,1)" text-anchor="middle" font-size="26.5" font-weight="normal" fill="#1a1a1a">88</text>
<text transform="translate(538.1,1136.0) scale(0.84,1)" text-anchor="middle" font-size="26.5" font-weight="normal" fill="#1a1a1a">62</text>
<text transform="translate(605.0,1136.0) scale(0.84,1)" text-anchor="middle" font-size="26.5" font-weight="normal" fill="#1a1a1a">R3/4</text>
<text transform="translate(668.5,1136.0) scale(0.84,1)" text-anchor="middle" font-size="26.5" font-weight="normal" fill="#1a1a1a">40</text>
<text transform="translate(724.5,1136.0) scale(0.84,1)" text-anchor="middle" font-size="26.5" font-weight="normal" fill="#1a1a1a">47</text>
<text transform="translate(777.6,1136.0) scale(0.84,1)" text-anchor="middle" font-size="26.5" font-weight="normal" fill="#1a1a1a">31</text>
<text transform="translate(830.7,1136.0) scale(0.84,1)" text-anchor="middle" font-size="26.5" font-weight="normal" fill="#1a1a1a">37</text>
<text transform="translate(947.5,1136.0) scale(0.84,1)" text-anchor="middle" font-size="26.5" font-weight="normal" fill="#1a1a1a">PN 40 / 140°C</text>
<text transform="translate(1083.2,1136.0) scale(0.84,1)" text-anchor="middle" font-size="26.5" font-weight="normal" fill="#1a1a1a">6</text>
<text transform="translate(1178.9,1136.0) scale(0.84,1)" text-anchor="middle" font-size="26.5" font-weight="normal" fill="#1a1a1a">P-1</text>
<text transform="translate(1273.5,1136.0) scale(0.84,1)" text-anchor="middle" font-size="26.5" font-weight="normal" fill="#1a1a1a">0,362</text>
<text transform="translate(34.5,1165.5) scale(0.84,1)" text-anchor="middle" font-size="26.5" font-weight="normal" fill="#1a1a1a">25</text>
<text transform="translate(111.8,1165.5) scale(0.85,1)" text-anchor="middle" font-size="26.5" font-weight="bold" fill="#1a1a1a">1454190</text>
<text transform="translate(213.3,1165.5) scale(0.84,1)" text-anchor="middle" font-size="26.5" font-weight="normal" fill="#1a1a1a">1 ”</text>
<text transform="translate(302.5,1165.5) scale(0.84,1)" text-anchor="middle" font-size="26.5" font-weight="normal" fill="#1a1a1a">G1</text>
<text transform="translate(364.5,1165.5) scale(0.84,1)" text-anchor="middle" font-size="26.5" font-weight="normal" fill="#1a1a1a">16</text>
<text transform="translate(416.0,1165.5) scale(0.84,1)" text-anchor="middle" font-size="26.5" font-weight="normal" fill="#1a1a1a">25</text>
<text transform="translate(474.8,1165.5) scale(0.84,1)" text-anchor="middle" font-size="26.5" font-weight="normal" fill="#1a1a1a">99</text>
<text transform="translate(538.1,1165.5) scale(0.84,1)" text-anchor="middle" font-size="26.5" font-weight="normal" fill="#1a1a1a">71</text>
<text transform="translate(605.0,1165.5) scale(0.84,1)" text-anchor="middle" font-size="26.5" font-weight="normal" fill="#1a1a1a">R1</text>
<text transform="translate(668.5,1165.5) scale(0.84,1)" text-anchor="middle" font-size="26.5" font-weight="normal" fill="#1a1a1a">40</text>
<text transform="translate(724.5,1165.5) scale(0.84,1)" text-anchor="middle" font-size="26.5" font-weight="normal" fill="#1a1a1a">50</text>
<text transform="translate(777.6,1165.5) scale(0.84,1)" text-anchor="middle" font-size="26.5" font-weight="normal" fill="#1a1a1a">40</text>
<text transform="translate(830.7,1165.5) scale(0.84,1)" text-anchor="middle" font-size="26.5" font-weight="normal" fill="#1a1a1a">47</text>
<text transform="translate(947.5,1165.5) scale(0.84,1)" text-anchor="middle" font-size="26.5" font-weight="normal" fill="#1a1a1a">PN 40 / 140°C</text>
<text transform="translate(1083.2,1165.5) scale(0.84,1)" text-anchor="middle" font-size="26.5" font-weight="normal" fill="#1a1a1a">4</text>
<text transform="translate(1178.9,1165.5) scale(0.84,1)" text-anchor="middle" font-size="26.5" font-weight="normal" fill="#1a1a1a">P-1</text>
<text transform="translate(1273.5,1165.5) scale(0.84,1)" text-anchor="middle" font-size="26.5" font-weight="normal" fill="#1a1a1a">0,615</text>
</svg></body></html>
